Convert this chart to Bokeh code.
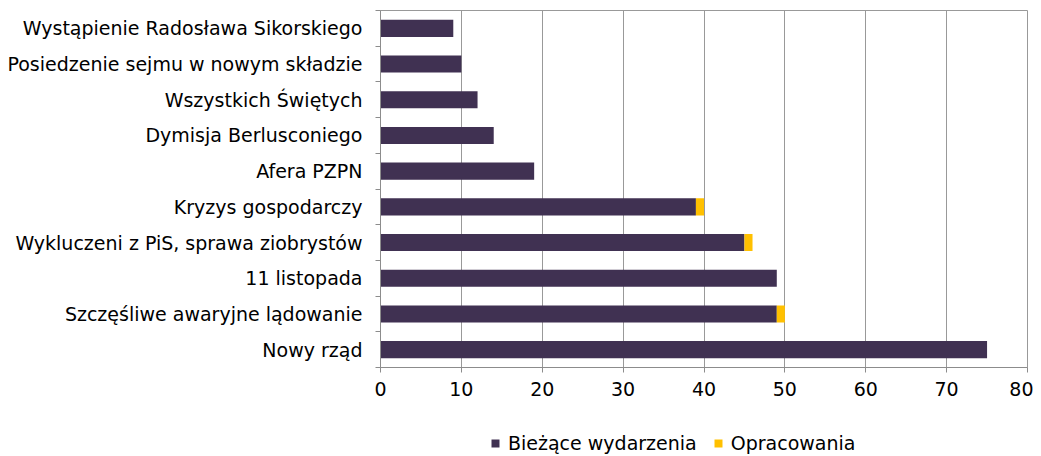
from bokeh.plotting import figure
from bokeh.layouts import column
from bokeh.models import ColumnDataSource, Legend, LegendItem, FixedTicker, Range1d
from bokeh.embed import file_html
from bokeh.resources import INLINE

# Data (top to bottom as in the reference)
categories = [
    "Wystąpienie Radosława Sikorskiego",
    "Posiedzenie sejmu w nowym składzie",
    "Wszystkich Świętych",
    "Dymisja Berlusconiego",
    "Afera PZPN",
    "Kryzys gospodarczy",
    "Wykluczeni z PiS, sprawa ziobrystów",
    "11 listopada",
    "Szczęśliwe awaryjne lądowanie",
    "Nowy rząd",
]
biezace = [9, 10, 12, 14, 19, 39, 45, 49, 49, 75]
opracowania = [0, 0, 0, 0, 0, 1, 1, 0, 1, 0]
series_names = ["Bieżące wydarzenia", "Opracowania"]
series_colors = ["#403152", "#FFC000"]
x_ticks = [0, 10, 20, 30, 40, 50, 60, 70, 80]

n = len(categories)
ypos = [n - i for i in range(n)]  # top item highest
src = ColumnDataSource(dict(y=ypos, cat=categories, a=biezace, b=opracowania))

FONT = "DejaVu Sans"
FS = "19px"
p = figure(frame_width=647, frame_height=357, output_backend="svg", toolbar_location=None,
           x_range=Range1d(0, 80), y_range=Range1d(0.5, n + 0.5),
           min_border_left=380, min_border_right=6, min_border_top=10, min_border_bottom=40)

rs = p.hbar_stack(["a", "b"], y="y", height=0.48, source=src,
                  color=series_colors, line_color=None)

# x axis
xa = p.xaxis[0]
xa.ticker = FixedTicker(ticks=x_ticks)
xa.axis_line_color = "#8c8c8c"
xa.major_tick_line_color = "#8c8c8c"
xa.major_tick_out = 5
xa.major_tick_in = 0
xa.minor_tick_line_color = None
xa.major_label_text_font = FONT
xa.major_label_text_font_size = FS
xa.major_label_text_color = "#000000"
xa.major_label_standoff = 9

# y axis: labels at centers, tick marks at category boundaries
ya = p.yaxis[0]
ya.ticker = FixedTicker(ticks=ypos, minor_ticks=[k + 0.5 for k in range(n + 1)])
ya.major_label_overrides = {y: c for y, c in zip(ypos, categories)}
ya.major_tick_line_color = None
ya.minor_tick_line_color = "#8c8c8c"
ya.minor_tick_out = 5
ya.minor_tick_in = 0
ya.axis_line_color = "#8c8c8c"
ya.major_label_text_font = FONT
ya.major_label_text_font_size = FS
ya.major_label_text_color = "#000000"
ya.major_label_standoff = 12

p.xgrid.ticker = FixedTicker(ticks=x_ticks)
p.xgrid.grid_line_color = "#999999"
p.ygrid.grid_line_color = None
p.outline_line_color = "#999999"

# Legend strip below the chart (its frame is aligned with the chart's frame)
lf = figure(width=1033, height=48, output_backend="svg", toolbar_location=None,
            x_range=Range1d(0, 1), y_range=Range1d(0, 1),
            min_border_left=0, min_border_right=0, min_border_top=0, min_border_bottom=0)
lf.axis.visible = False
lf.grid.visible = False
lf.outline_line_color = None
lrs = [lf.rect(x=[5], y=[5], width=1, height=1, fill_color=c, line_color=None)
       for c in series_colors]
legend = Legend(items=[LegendItem(label=series_names[i], renderers=[lrs[i]]) for i in range(2)],
                orientation="horizontal", location=(110, 1),
                label_text_font=FONT, label_text_font_size=FS, label_text_color="#000000",
                glyph_width=10, glyph_height=10, spacing=16,
                border_line_color=None, background_fill_alpha=0,
                margin=0, padding=4, label_standoff=8)
lf.add_layout(legend, "center")

layout = column(p, lf, spacing=0)
open("out.html", "w").write(file_html(layout, INLINE))
